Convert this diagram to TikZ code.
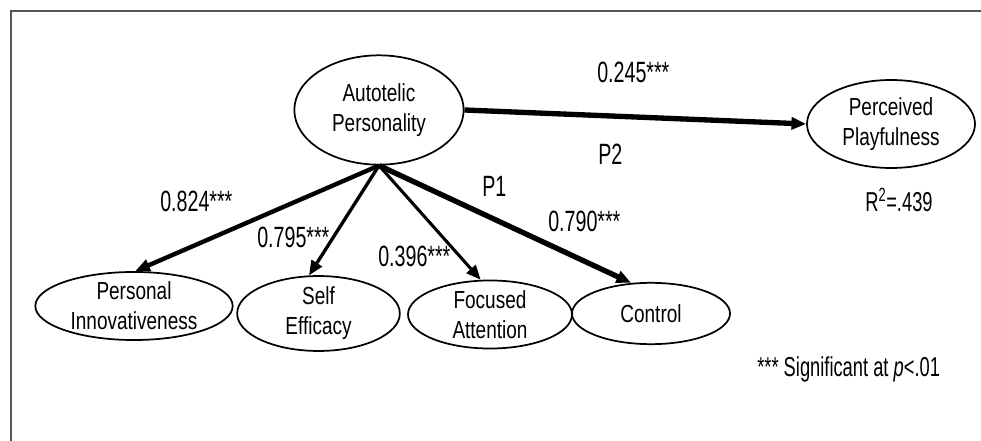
\documentclass[tikz,border=0pt]{standalone}
\usepackage{fontspec}
\setmainfont{Liberation Sans}
\newfontfamily\nodefnt{Liberation Sans}[FakeStretch=0.77]
\newfontfamily\labfnt{Liberation Sans}[FakeStretch=0.67]
\usetikzlibrary{shapes.geometric,arrows.meta}
\definecolor{framegray}{RGB}{85,85,85}
\tikzset{
  latent/.style={draw=black, line width=1.3pt, ellipse, inner sep=0pt, align=center,
    font=\nodefnt\fontsize{18.5}{22.5}\selectfont},
  pathlab/.style={anchor=base west, inner sep=0pt, font=\labfnt\fontsize{22}{24}\selectfont},
  note/.style={anchor=base west, inner sep=0pt, font=\labfnt\fontsize{20.5}{22}\selectfont},
  path/.style={draw=black, -{Triangle[length=11pt,width=9pt]}}
}
\begin{document}
\begin{tikzpicture}[x=0.75pt, y=-0.75pt]
\useasboundingbox (0,0) rectangle (981,441);
\fill[white] (0,0) rectangle (981,441);
% frame
\draw[framegray, line width=1.6pt] (11,441) -- (11,11) -- (981,11);
% nodes
\node[latent, minimum width=127pt, minimum height=82pt] (auto) at (379,110) {Autotelic\\Personality};
\node[latent, minimum width=126pt, minimum height=66pt] (play) at (891,124) {Perceived\\Playfulness};
\node[latent, minimum width=148pt, minimum height=51pt] (pi) at (134,306) {Personal\\Innovativeness};
\node[latent, minimum width=122pt, minimum height=52pt] (se) at (318.5,313.5) {Self\\Efficacy};
\node[latent, minimum width=123pt, minimum height=50pt] (fa) at (490,314.5) {Focused\\Attention};
\node[latent, minimum width=118.5pt, minimum height=46pt] (ct) at (651,313.5) {Control};
% connectors
\draw[path, line width=4pt] (auto.east) -- (play.west);
\draw[path, line width=3.3pt] (auto.south) -- (pi.88);
\draw[path, line width=2.5pt] (auto.south) -- (se.104);
\draw[path, line width=2.3pt] (auto.south) -- (fa.105);
\draw[path, line width=4pt] (auto.south) -- (ct.123);
% labels
\node[pathlab] (l245) at (597,83) {0.245***};
\node[pathlab] (lp2) at (598,165) {P2};
\node[pathlab] (lp1) at (482,197) {P1};
\node[pathlab] (l790) at (548,232) {0.790***};
\node[pathlab] (l824) at (160,212) {0.824***};
\node[pathlab] (l795) at (257,248) {0.795***};
\node[pathlab] (l396) at (378,267) {0.396***};
\node[note] (r2) at (865,212) {R\textsuperscript{2}=.439};
\node[note] (sig) at (757,377) {*** Significant at {\itshape p}<.01};
\end{tikzpicture}
\end{document}
